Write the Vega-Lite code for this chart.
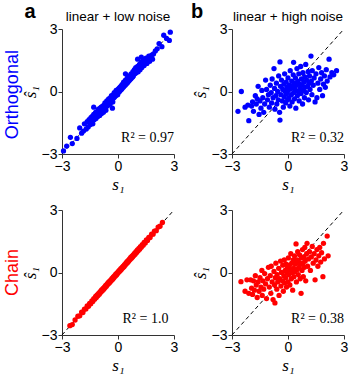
{
  "$schema": "https://vega.github.io/schema/vega-lite/v6.json",
  "padding": {"left": 3, "top": 2, "right": 2, "bottom": 2},
  "background": "white",
  "datasets": {
    "oLow": [
      {"x":-2.92,"y":-2.85},{"x":-2.75,"y":-2.62},{"x":-2.55,"y":-2.2},{"x":-2.45,"y":-2.5},{"x":-2.2,"y":-2.25},{"x":-2.05,"y":-1.75},{"x":-1.95,"y":-2.0},{"x":-1.85,"y":-1.9},{"x":-1.8,"y":-1.55},{"x":-1.7,"y":-1.8},{"x":-1.65,"y":-1.45},{"x":-1.6,"y":-1.7},{"x":-1.55,"y":-1.35},{"x":-1.5,"y":-1.6},{"x":-1.45,"y":-1.25},{"x":-1.4,"y":-1.45},{"x":-1.38,"y":-1.2},{"x":-1.35,"y":-1.55},{"x":-1.3,"y":-1.1},{"x":-1.28,"y":-1.35},{"x":-1.3,"y":-0.75},{"x":-1.25,"y":-1.25},{"x":-1.2,"y":-1.0},{"x":-1.18,"y":-1.3},{"x":-1.15,"y":-1.15},{"x":-1.1,"y":-0.95},{"x":-1.08,"y":-1.2},{"x":-1.05,"y":-0.85},{"x":-1.02,"y":-1.05},{"x":-1.0,"y":-0.9},{"x":-0.98,"y":-1.15},{"x":-0.95,"y":-0.8},{"x":-0.92,"y":-0.95},{"x":-0.9,"y":-0.75},{"x":-0.88,"y":-1.05},{"x":-0.85,"y":-0.9},{"x":-0.82,"y":-0.7},{"x":-0.8,"y":-0.85},{"x":-0.78,"y":-1.0},{"x":-0.75,"y":-0.65},{"x":-0.72,"y":-0.8},{"x":-0.7,"y":-0.55},{"x":-0.68,"y":-0.75},{"x":-0.65,"y":-0.9},{"x":-0.62,"y":-0.6},{"x":-0.6,"y":-0.45},{"x":-0.58,"y":-0.7},{"x":-0.55,"y":-0.5},{"x":-0.52,"y":-0.65},{"x":-0.5,"y":-0.35},{"x":-0.48,"y":-0.55},{"x":-0.45,"y":-0.4},{"x":-0.42,"y":-0.6},{"x":-0.4,"y":-0.3},{"x":-0.38,"y":-0.45},{"x":-0.35,"y":-0.2},{"x":-0.32,"y":-0.4},{"x":-0.3,"y":-0.8},{"x":-0.3,"y":-0.25},{"x":-0.28,"y":-0.5},{"x":-0.25,"y":-0.15},{"x":-0.22,"y":-0.3},{"x":-0.2,"y":-0.05},{"x":-0.18,"y":-0.25},{"x":-0.15,"y":-0.1},{"x":-0.12,"y":-0.2},{"x":-0.1,"y":0.05},{"x":-0.08,"y":-0.1},{"x":-0.05,"y":0.0},{"x":-0.02,"y":-0.15},{"x":0.0,"y":0.1},{"x":0.02,"y":-0.05},{"x":0.05,"y":0.15},{"x":0.08,"y":0.0},{"x":0.1,"y":0.2},{"x":0.12,"y":0.05},{"x":0.15,"y":0.25},{"x":0.18,"y":0.1},{"x":0.2,"y":0.3},{"x":0.22,"y":0.15},{"x":0.25,"y":0.35},{"x":0.28,"y":0.2},{"x":0.3,"y":0.45},{"x":0.32,"y":0.25},{"x":0.35,"y":0.4},{"x":0.38,"y":0.3},{"x":0.4,"y":0.55},{"x":0.4,"y":0.85},{"x":0.42,"y":0.35},{"x":0.45,"y":0.5},{"x":0.48,"y":0.4},{"x":0.5,"y":0.65},{"x":0.52,"y":0.45},{"x":0.55,"y":0.6},{"x":0.58,"y":0.5},{"x":0.6,"y":0.75},{"x":0.62,"y":0.55},{"x":0.65,"y":0.7},{"x":0.68,"y":0.6},{"x":0.7,"y":0.85},{"x":0.72,"y":0.65},{"x":0.75,"y":0.8},{"x":0.78,"y":0.7},{"x":0.8,"y":0.95},{"x":0.82,"y":0.75},{"x":0.85,"y":0.9},{"x":0.88,"y":1.05},{"x":0.9,"y":0.85},{"x":0.92,"y":1.0},{"x":0.95,"y":1.15},{"x":0.98,"y":0.9},{"x":1.0,"y":1.05},{"x":1.05,"y":1.2},{"x":1.05,"y":1.55},{"x":1.08,"y":0.95},{"x":1.1,"y":1.1},{"x":1.15,"y":1.3},{"x":1.18,"y":1.05},{"x":1.2,"y":1.2},{"x":1.25,"y":1.4},{"x":1.25,"y":1.65},{"x":1.28,"y":1.15},{"x":1.3,"y":1.3},{"x":1.35,"y":1.5},{"x":1.4,"y":1.25},{"x":1.45,"y":1.4},{"x":1.5,"y":1.6},{"x":1.55,"y":1.35},{"x":1.6,"y":1.5},{"x":1.65,"y":1.7},{"x":1.7,"y":1.45},{"x":1.75,"y":1.6},{"x":1.8,"y":1.75},{"x":1.85,"y":1.55},{"x":1.9,"y":1.8},{"x":2.0,"y":1.95},{"x":2.1,"y":2.05},{"x":2.2,"y":2.3},{"x":2.35,"y":2.15},{"x":2.45,"y":2.7},{"x":2.6,"y":2.55},{"x":2.75,"y":2.45},{"x":2.8,"y":2.85}
    ],
    "oHigh": [
      {"x":-2.68,"y":-0.95},{"x":-2.5,"y":0.0},{"x":-2.1,"y":-1.4},{"x":-2.3,"y":-0.75},{"x":-2.15,"y":-0.65},{"x":-1.95,"y":-0.7},{"x":-1.9,"y":-0.5},{"x":-1.85,"y":-0.95},{"x":-1.75,"y":-0.2},{"x":-1.7,"y":-0.6},{"x":-1.65,"y":-0.35},{"x":-1.6,"y":0.25},{"x":-1.55,"y":-1.1},{"x":-1.5,"y":-0.45},{"x":-1.45,"y":-0.8},{"x":-1.4,"y":0.05},{"x":-1.35,"y":-0.3},{"x":-1.3,"y":-1.0},{"x":-1.25,"y":-0.6},{"x":-1.2,"y":0.55},{"x":-1.15,"y":0.1},{"x":-1.1,"y":-0.4},{"x":-1.05,"y":-0.15},{"x":-1.0,"y":-0.75},{"x":-0.95,"y":0.3},{"x":-0.9,"y":-0.05},{"x":-0.88,"y":-0.55},{"x":-0.85,"y":0.6},{"x":-0.8,"y":-0.3},{"x":-0.75,"y":1.1},{"x":-0.72,"y":0.15},{"x":-0.7,"y":-0.85},{"x":-0.65,"y":-0.2},{"x":-0.62,"y":0.4},{"x":-0.6,"y":-0.6},{"x":-0.55,"y":0.0},{"x":-0.52,"y":-0.4},{"x":-0.5,"y":0.75},{"x":-0.45,"y":-1.0},{"x":-0.43,"y":1.42},{"x":-0.43,"y":-1.37},{"x":-0.4,"y":0.25},{"x":-0.38,"y":-0.15},{"x":-0.35,"y":0.55},{"x":-0.3,"y":-0.45},{"x":-0.28,"y":0.1},{"x":-0.25,"y":-0.75},{"x":-0.22,"y":0.35},{"x":-0.2,"y":-0.25},{"x":-0.18,"y":0.85},{"x":-0.15,"y":0.0},{"x":-0.12,"y":-0.55},{"x":-0.1,"y":0.45},{"x":-0.08,"y":-0.1},{"x":-0.05,"y":0.2},{"x":-0.02,"y":-0.4},{"x":0.0,"y":0.65},{"x":0.02,"y":0.05},{"x":0.05,"y":-0.3},{"x":0.08,"y":0.3},{"x":0.1,"y":-0.7},{"x":0.12,"y":1.0},{"x":0.15,"y":0.15},{"x":0.18,"y":-0.15},{"x":0.2,"y":0.5},{"x":0.22,"y":-0.5},{"x":0.25,"y":0.25},{"x":0.28,"y":0.8},{"x":0.3,"y":1.4},{"x":0.3,"y":-0.05},{"x":0.33,"y":0.4},{"x":0.35,"y":-0.35},{"x":0.38,"y":0.1},{"x":0.4,"y":0.65},{"x":0.42,"y":-0.8},{"x":0.45,"y":0.3},{"x":0.48,"y":1.1},{"x":0.5,"y":-0.2},{"x":0.52,"y":0.5},{"x":0.55,"y":0.0},{"x":0.58,"y":0.85},{"x":0.6,"y":-0.45},{"x":0.62,"y":0.35},{"x":0.65,"y":0.15},{"x":0.68,"y":1.2},{"x":0.7,"y":-0.1},{"x":0.72,"y":0.6},{"x":0.75,"y":0.3},{"x":0.78,"y":-0.6},{"x":0.8,"y":0.9},{"x":0.82,"y":0.05},{"x":0.85,"y":0.45},{"x":0.88,"y":-0.3},{"x":0.9,"y":0.7},{"x":0.92,"y":0.2},{"x":0.95,"y":1.3},{"x":0.98,"y":-0.05},{"x":1.0,"y":0.55},{"x":1.05,"y":0.25},{"x":1.08,"y":0.95},{"x":1.1,"y":-0.4},{"x":1.12,"y":0.4},{"x":1.15,"y":0.75},{"x":1.18,"y":0.1},{"x":1.23,"y":1.7},{"x":1.25,"y":0.5},{"x":1.28,"y":-0.15},{"x":1.3,"y":1.0},{"x":1.35,"y":0.3},{"x":1.4,"y":0.65},{"x":1.45,"y":-0.5},{"x":1.5,"y":0.85},{"x":1.55,"y":-0.3},{"x":1.6,"y":0.4},{"x":1.65,"y":1.15},{"x":1.7,"y":0.1},{"x":1.75,"y":0.6},{"x":1.8,"y":0.9},{"x":1.85,"y":-0.2},{"x":1.9,"y":0.35},{"x":1.95,"y":0.75},{"x":2.0,"y":0.2},{"x":2.05,"y":1.05},{"x":2.1,"y":0.5},{"x":2.2,"y":1.55},{"x":2.25,"y":0.7},{"x":2.35,"y":0.9},{"x":2.45,"y":0.8},{"x":2.6,"y":1.0}
    ],
    "cLow": [
      {"x":-2.58,"y":-2.55},{"x":-2.45,"y":-2.5},{"x":-2.3,"y":-2.28},{"x":-2.15,"y":-2.1},{"x":-2.05,"y":-2.08},{"x":-1.95,"y":-1.9},{"x":-1.88,"y":-1.92},{"x":-1.8,"y":-1.76},{"x":-1.72,"y":-1.75},{"x":-1.65,"y":-1.6},{"x":-1.58,"y":-1.62},{"x":-1.52,"y":-1.48},{"x":-1.46,"y":-1.5},{"x":-1.4,"y":-1.36},{"x":-1.35,"y":-1.39},{"x":-1.3,"y":-1.26},{"x":-1.25,"y":-1.28},{"x":-1.2,"y":-1.15},{"x":-1.16,"y":-1.2},{"x":-1.12,"y":-1.08},{"x":-1.08,"y":-1.11},{"x":-1.04,"y":-1.0},{"x":-1.0,"y":-1.04},{"x":-0.96,"y":-0.92},{"x":-0.92,"y":-0.95},{"x":-0.88,"y":-0.84},{"x":-0.84,"y":-0.88},{"x":-0.8,"y":-0.76},{"x":-0.76,"y":-0.8},{"x":-0.72,"y":-0.69},{"x":-0.69,"y":-0.72},{"x":-0.66,"y":-0.62},{"x":-0.62,"y":-0.66},{"x":-0.58,"y":-0.55},{"x":-0.55,"y":-0.58},{"x":-0.52,"y":-0.48},{"x":-0.48,"y":-0.52},{"x":-0.45,"y":-0.41},{"x":-0.42,"y":-0.45},{"x":-0.38,"y":-0.35},{"x":-0.35,"y":-0.38},{"x":-0.32,"y":-0.28},{"x":-0.28,"y":-0.32},{"x":-0.25,"y":-0.21},{"x":-0.22,"y":-0.25},{"x":-0.18,"y":-0.15},{"x":-0.15,"y":-0.18},{"x":-0.12,"y":-0.08},{"x":-0.08,"y":-0.12},{"x":-0.05,"y":-0.02},{"x":-0.02,"y":-0.05},{"x":0.02,"y":0.05},{"x":0.05,"y":0.02},{"x":0.08,"y":0.11},{"x":0.12,"y":0.08},{"x":0.15,"y":0.18},{"x":0.18,"y":0.15},{"x":0.22,"y":0.25},{"x":0.25,"y":0.22},{"x":0.28,"y":0.31},{"x":0.32,"y":0.28},{"x":0.35,"y":0.38},{"x":0.38,"y":0.35},{"x":0.42,"y":0.45},{"x":0.45,"y":0.42},{"x":0.48,"y":0.52},{"x":0.52,"y":0.48},{"x":0.55,"y":0.58},{"x":0.58,"y":0.55},{"x":0.62,"y":0.65},{"x":0.65,"y":0.62},{"x":0.68,"y":0.72},{"x":0.72,"y":0.68},{"x":0.75,"y":0.79},{"x":0.78,"y":0.75},{"x":0.82,"y":0.85},{"x":0.85,"y":0.82},{"x":0.88,"y":0.92},{"x":0.92,"y":0.88},{"x":0.96,"y":1.0},{"x":1.0,"y":0.96},{"x":1.04,"y":1.08},{"x":1.08,"y":1.04},{"x":1.12,"y":1.16},{"x":1.16,"y":1.12},{"x":1.2,"y":1.24},{"x":1.25,"y":1.21},{"x":1.3,"y":1.34},{"x":1.35,"y":1.31},{"x":1.4,"y":1.44},{"x":1.46,"y":1.42},{"x":1.52,"y":1.56},{"x":1.58,"y":1.54},{"x":1.65,"y":1.69},{"x":1.72,"y":1.68},{"x":1.8,"y":1.84},{"x":1.88,"y":1.84},{"x":1.95,"y":1.99},{"x":2.05,"y":2.01},{"x":2.15,"y":2.18},{"x":2.25,"y":2.22},{"x":2.38,"y":2.4}
    ],
    "cHigh": [
      {"x":-2.52,"y":-0.44},{"x":-2.3,"y":-0.9},{"x":-2.2,"y":-0.35},{"x":-2.1,"y":-1.0},{"x":-2.0,"y":-0.35},{"x":-1.95,"y":-0.75},{"x":-1.9,"y":-1.05},{"x":-1.85,"y":-0.4},{"x":-1.8,"y":-0.85},{"x":-1.75,"y":-0.15},{"x":-1.7,"y":-0.6},{"x":-1.65,"y":-1.2},{"x":-1.6,"y":-0.45},{"x":-1.55,"y":-0.9},{"x":-1.5,"y":-0.25},{"x":-1.45,"y":-0.7},{"x":-1.4,"y":0.1},{"x":-1.38,"y":-1.1},{"x":-1.35,"y":-0.4},{"x":-1.3,"y":-0.8},{"x":-1.25,"y":-0.05},{"x":-1.2,"y":-0.55},{"x":-1.15,"y":-1.25},{"x":-1.1,"y":-0.3},{"x":-1.05,"y":0.25},{"x":-1.0,"y":-0.7},{"x":-0.95,"y":-0.15},{"x":-0.92,"y":-1.0},{"x":-0.9,"y":0.3},{"x":-0.85,"y":-0.45},{"x":-0.8,"y":-1.3},{"x":-0.75,"y":0.05},{"x":-0.72,"y":-0.6},{"x":-0.7,"y":-1.46},{"x":-0.68,"y":-0.25},{"x":-0.65,"y":0.45},{"x":-0.6,"y":-0.8},{"x":-0.58,"y":-0.1},{"x":-0.55,"y":-0.45},{"x":-0.5,"y":0.2},{"x":-0.48,"y":-1.1},{"x":-0.45,"y":-0.3},{"x":-0.4,"y":0.55},{"x":-0.38,"y":-0.65},{"x":-0.35,"y":0.0},{"x":-0.3,"y":-0.4},{"x":-0.28,"y":0.35},{"x":-0.25,"y":-0.9},{"x":-0.22,"y":-0.15},{"x":-0.2,"y":0.6},{"x":-0.18,"y":-0.5},{"x":-0.15,"y":0.1},{"x":-0.12,"y":-0.25},{"x":-0.1,"y":0.4},{"x":-0.08,"y":-0.7},{"x":-0.05,"y":0.0},{"x":-0.02,"y":0.25},{"x":0.0,"y":-0.45},{"x":0.02,"y":0.7},{"x":0.05,"y":-0.1},{"x":0.08,"y":0.35},{"x":0.1,"y":-0.6},{"x":0.12,"y":0.15},{"x":0.15,"y":0.9},{"x":0.18,"y":-0.3},{"x":0.2,"y":0.45},{"x":0.22,"y":0.0},{"x":0.25,"y":-0.85},{"x":0.28,"y":0.6},{"x":0.3,"y":0.2},{"x":0.32,"y":-0.2},{"x":0.35,"y":0.8},{"x":0.38,"y":0.05},{"x":0.4,"y":0.4},{"x":0.43,"y":1.37},{"x":0.45,"y":-0.45},{"x":0.48,"y":0.6},{"x":0.5,"y":0.15},{"x":0.52,"y":1.0},{"x":0.55,"y":-0.1},{"x":0.58,"y":0.5},{"x":0.6,"y":0.25},{"x":0.62,"y":0.85},{"x":0.65,"y":-0.3},{"x":0.68,"y":0.4},{"x":0.7,"y":-1.0},{"x":0.72,"y":0.7},{"x":0.75,"y":0.1},{"x":0.78,"y":1.1},{"x":0.8,"y":0.45},{"x":0.82,"y":-0.2},{"x":0.85,"y":0.75},{"x":0.88,"y":0.25},{"x":0.9,"y":1.2},{"x":0.92,"y":0.55},{"x":0.95,"y":-0.4},{"x":1.0,"y":0.9},{"x":1.02,"y":1.4},{"x":1.05,"y":0.3},{"x":1.1,"y":0.65},{"x":1.15,"y":1.0},{"x":1.2,"y":0.1},{"x":1.25,"y":0.75},{"x":1.3,"y":1.25},{"x":1.35,"y":0.45},{"x":1.4,"y":0.9},{"x":1.45,"y":-0.35},{"x":1.5,"y":0.6},{"x":1.55,"y":1.1},{"x":1.6,"y":0.3},{"x":1.65,"y":0.8},{"x":1.7,"y":1.2},{"x":1.75,"y":0.5},{"x":1.8,"y":0.95},{"x":1.87,"y":-0.2},{"x":1.9,"y":1.4},{"x":1.95,"y":0.65},{"x":2.1,"y":1.75},{"x":2.15,"y":0.8}
    ]
  },
  "columns": 2,
  "spacing": {"row": 56, "column": 58},
  "bounds": "flush",
  "concat": [
    {
      "width": 112, "height": 125,
      "title": {"text": "linear + low noise"},
      "layer": [
        {"data": {"values": [{"line": "identity"}]}, "mark": {"type": "rule", "strokeDash": [4, 3], "color": "black", "strokeWidth": 1}, "encoding": {"x": {"datum": -3, "type": "quantitative", "scale": {"domain": [-3, 3], "nice": false, "zero": false}, "axis": {"values": [-3, 0, 3], "title": "s₁"}}, "x2": {"datum": 3}, "y": {"datum": -3, "type": "quantitative", "scale": {"domain": [-3, 3], "nice": false, "zero": false}, "axis": {"values": [-3, 0, 3], "title": "ŝ₁"}}, "y2": {"datum": 3}}},
        {"data": {"name": "oLow"}, "mark": {"type": "circle", "size": 28, "opacity": 1, "color": "#0000ff"}, "encoding": {"x": {"field": "x", "type": "quantitative"}, "y": {"field": "y", "type": "quantitative"}}},
        {"data": {"values": [{"label": "R² = 0.97"}]}, "mark": {"type": "text", "align": "right", "baseline": "alphabetic", "font": "Liberation Serif", "fontSize": 14}, "encoding": {"x": {"datum": 3}, "y": {"datum": -2.4}, "text": {"field": "label"}}},
        {"data": {"values": [{"label": "a"}]}, "mark": {"type": "text", "align": "center", "baseline": "alphabetic", "font": "Liberation Sans", "fontSize": 20, "fontWeight": "bold", "dx": -32, "dy": -11}, "encoding": {"x": {"datum": -3}, "y": {"datum": 3}, "text": {"field": "label"}}},
        {"data": {"values": [{"label": "Orthogonal"}]}, "mark": {"type": "text", "align": "center", "baseline": "alphabetic", "font": "Liberation Sans", "fontSize": 18, "color": "#0000ff", "angle": 270, "dy": -44}, "encoding": {"x": {"datum": -3}, "y": {"datum": -0.15}, "text": {"field": "label"}}}
      ]
    },
    {
      "width": 112, "height": 125,
      "title": {"text": "linear + high noise"},
      "layer": [
        {"data": {"values": [{"line": "identity"}]}, "mark": {"type": "rule", "strokeDash": [4, 3], "color": "black", "strokeWidth": 1}, "encoding": {"x": {"datum": -3, "type": "quantitative", "scale": {"domain": [-3, 3], "nice": false, "zero": false}, "axis": {"values": [-3, 0, 3], "title": "s₁"}}, "x2": {"datum": 3}, "y": {"datum": -3, "type": "quantitative", "scale": {"domain": [-3, 3], "nice": false, "zero": false}, "axis": {"values": [-3, 0, 3], "title": "ŝ₁"}}, "y2": {"datum": 3}}},
        {"data": {"name": "oHigh"}, "mark": {"type": "circle", "size": 28, "opacity": 1, "color": "#0000ff"}, "encoding": {"x": {"field": "x", "type": "quantitative"}, "y": {"field": "y", "type": "quantitative"}}},
        {"data": {"values": [{"label": "R² = 0.32"}]}, "mark": {"type": "text", "align": "right", "baseline": "alphabetic", "font": "Liberation Serif", "fontSize": 14}, "encoding": {"x": {"datum": 3}, "y": {"datum": -2.4}, "text": {"field": "label"}}},
        {"data": {"values": [{"label": "b"}]}, "mark": {"type": "text", "align": "center", "baseline": "alphabetic", "font": "Liberation Sans", "fontSize": 20, "fontWeight": "bold", "dx": -35, "dy": -11}, "encoding": {"x": {"datum": -3}, "y": {"datum": 3}, "text": {"field": "label"}}}
      ]
    },
    {
      "width": 112, "height": 125,
      "layer": [
        {"data": {"values": [{"line": "identity"}]}, "mark": {"type": "rule", "strokeDash": [4, 3], "color": "black", "strokeWidth": 1}, "encoding": {"x": {"datum": -3, "type": "quantitative", "scale": {"domain": [-3, 3], "nice": false, "zero": false}, "axis": {"values": [-3, 0, 3], "title": "s₁"}}, "x2": {"datum": 3}, "y": {"datum": -3, "type": "quantitative", "scale": {"domain": [-3, 3], "nice": false, "zero": false}, "axis": {"values": [-3, 0, 3], "title": "ŝ₁"}}, "y2": {"datum": 3}}},
        {"data": {"name": "cLow"}, "mark": {"type": "circle", "size": 28, "opacity": 1, "color": "#ff0000"}, "encoding": {"x": {"field": "x", "type": "quantitative"}, "y": {"field": "y", "type": "quantitative"}}},
        {"data": {"values": [{"label": "R² = 1.0"}]}, "mark": {"type": "text", "align": "right", "baseline": "alphabetic", "font": "Liberation Serif", "fontSize": 14}, "encoding": {"x": {"datum": 2.7}, "y": {"datum": -2.4}, "text": {"field": "label"}}},
        {"data": {"values": [{"label": "Chain"}]}, "mark": {"type": "text", "align": "center", "baseline": "alphabetic", "font": "Liberation Sans", "fontSize": 18, "color": "#ff0000", "angle": 270, "dy": -44}, "encoding": {"x": {"datum": -3}, "y": {"datum": 0}, "text": {"field": "label"}}}
      ]
    },
    {
      "width": 112, "height": 125,
      "layer": [
        {"data": {"values": [{"line": "identity"}]}, "mark": {"type": "rule", "strokeDash": [4, 3], "color": "black", "strokeWidth": 1}, "encoding": {"x": {"datum": -3, "type": "quantitative", "scale": {"domain": [-3, 3], "nice": false, "zero": false}, "axis": {"values": [-3, 0, 3], "title": "s₁"}}, "x2": {"datum": 3}, "y": {"datum": -3, "type": "quantitative", "scale": {"domain": [-3, 3], "nice": false, "zero": false}, "axis": {"values": [-3, 0, 3], "title": "ŝ₁"}}, "y2": {"datum": 3}}},
        {"data": {"name": "cHigh"}, "mark": {"type": "circle", "size": 28, "opacity": 1, "color": "#ff0000"}, "encoding": {"x": {"field": "x", "type": "quantitative"}, "y": {"field": "y", "type": "quantitative"}}},
        {"data": {"values": [{"label": "R² = 0.38"}]}, "mark": {"type": "text", "align": "right", "baseline": "alphabetic", "font": "Liberation Serif", "fontSize": 14}, "encoding": {"x": {"datum": 3}, "y": {"datum": -2.4}, "text": {"field": "label"}}}
      ]
    }
  ],
  "config": {
    "view": {"stroke": null},
    "axis": {"grid": false, "domainColor": "#333", "tickColor": "#333", "labelColor": "black", "labelFont": "Liberation Sans", "labelFontSize": 14, "tickSize": 4, "labelPadding": 1, "labelFlush": false, "titleFont": "Liberation Serif", "titleFontSize": 17, "titleFontWeight": "normal", "titleFontStyle": "italic", "titleColor": "black"},
    "axisX": {"titleY": 30, "titleBaseline": "middle"},
    "axisY": {"titleX": -32, "titleBaseline": "middle"},
    "title": {"font": "Liberation Sans", "fontSize": 13.5, "fontWeight": "normal", "color": "black", "anchor": "middle", "frame": "group", "offset": -21}
  }
}
